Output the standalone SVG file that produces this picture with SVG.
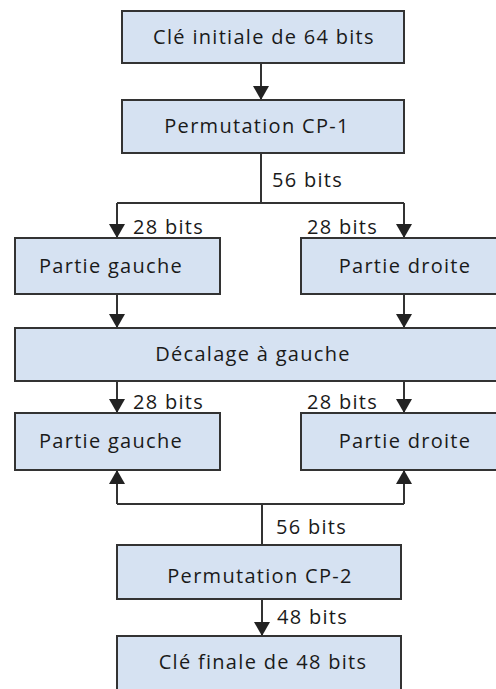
<svg xmlns="http://www.w3.org/2000/svg" width="496" height="689" viewBox="0 0 496 689">
<defs>
<style>
.box{fill:#d6e2f2;stroke:#333;stroke-width:2}
.t{font-family:"Open Sans","Liberation Sans",sans-serif;font-size:20px;letter-spacing:1.3px;fill:#1a1a1a}
.c{text-anchor:middle}
.ln{stroke:#333;stroke-width:2;fill:none}
</style>
<marker id="ah" markerUnits="userSpaceOnUse" markerWidth="14" markerHeight="16" viewBox="0 0 14 16" refX="14" refY="8" orient="auto">
<path d="M0,0 L14,8 L0,16 Z" fill="#222"/>
</marker>
</defs>
<rect width="496" height="689" fill="#fff"/>
<g id="connectors">
<line class="ln" x1="261" y1="63" x2="261" y2="100" marker-end="url(#ah)"/>
<polyline class="ln" points="261,153 261,203"/>
<polyline class="ln" points="117,203 404,203"/>
<line class="ln" x1="117" y1="203" x2="117" y2="238" marker-end="url(#ah)"/>
<line class="ln" x1="404" y1="203" x2="404" y2="238" marker-end="url(#ah)"/>
<line class="ln" x1="117" y1="294" x2="117" y2="328" marker-end="url(#ah)"/>
<line class="ln" x1="404" y1="294" x2="404" y2="328" marker-end="url(#ah)"/>
<line class="ln" x1="117" y1="381" x2="117" y2="413" marker-end="url(#ah)"/>
<line class="ln" x1="404" y1="381" x2="404" y2="413" marker-end="url(#ah)"/>
<polyline class="ln" points="117,504 404,504"/>
<line class="ln" x1="117" y1="504" x2="117" y2="470" marker-end="url(#ah)"/>
<line class="ln" x1="404" y1="504" x2="404" y2="470" marker-end="url(#ah)"/>
<polyline class="ln" points="262,504 262,545"/>
<line class="ln" x1="262" y1="599" x2="262" y2="636" marker-end="url(#ah)"/>
<text class="t" x="272" y="187">56 bits</text>
<text class="t" x="133" y="234">28 bits</text>
<text class="t" x="307" y="234">28 bits</text>
<text class="t" x="133" y="409">28 bits</text>
<text class="t" x="307" y="409">28 bits</text>
<text class="t" x="276" y="534">56 bits</text>
<text class="t" x="277" y="624">48 bits</text>
</g>
<g id="n1"><rect class="box" x="122" y="11" width="282" height="52"/><text class="t c" x="264" y="44">Clé initiale de 64 bits</text></g>
<g id="n2"><rect class="box" x="122" y="100" width="282" height="53"/><text class="t c" x="257" y="133">Permutation CP-1</text></g>
<g id="n3"><rect class="box" x="15" y="238" width="205" height="56"/><text class="t c" x="111" y="273">Partie gauche</text></g>
<g id="n4"><rect class="box" x="301" y="238" width="198" height="56"/><text class="t c" x="405" y="273">Partie droite</text></g>
<g id="n5"><rect class="box" x="15" y="328" width="484" height="53"/><text class="t c" x="253" y="361">Décalage à gauche</text></g>
<g id="n6"><rect class="box" x="15" y="413" width="205" height="57"/><text class="t c" x="111" y="448">Partie gauche</text></g>
<g id="n7"><rect class="box" x="301" y="413" width="198" height="57"/><text class="t c" x="405" y="448">Partie droite</text></g>
<g id="n8"><rect class="box" x="117" y="545" width="284" height="54"/><text class="t c" x="260" y="583">Permutation CP-2</text></g>
<g id="n9"><rect class="box" x="117" y="636" width="284" height="60"/><text class="t c" x="263" y="669">Clé finale de 48 bits</text></g>
</svg>
